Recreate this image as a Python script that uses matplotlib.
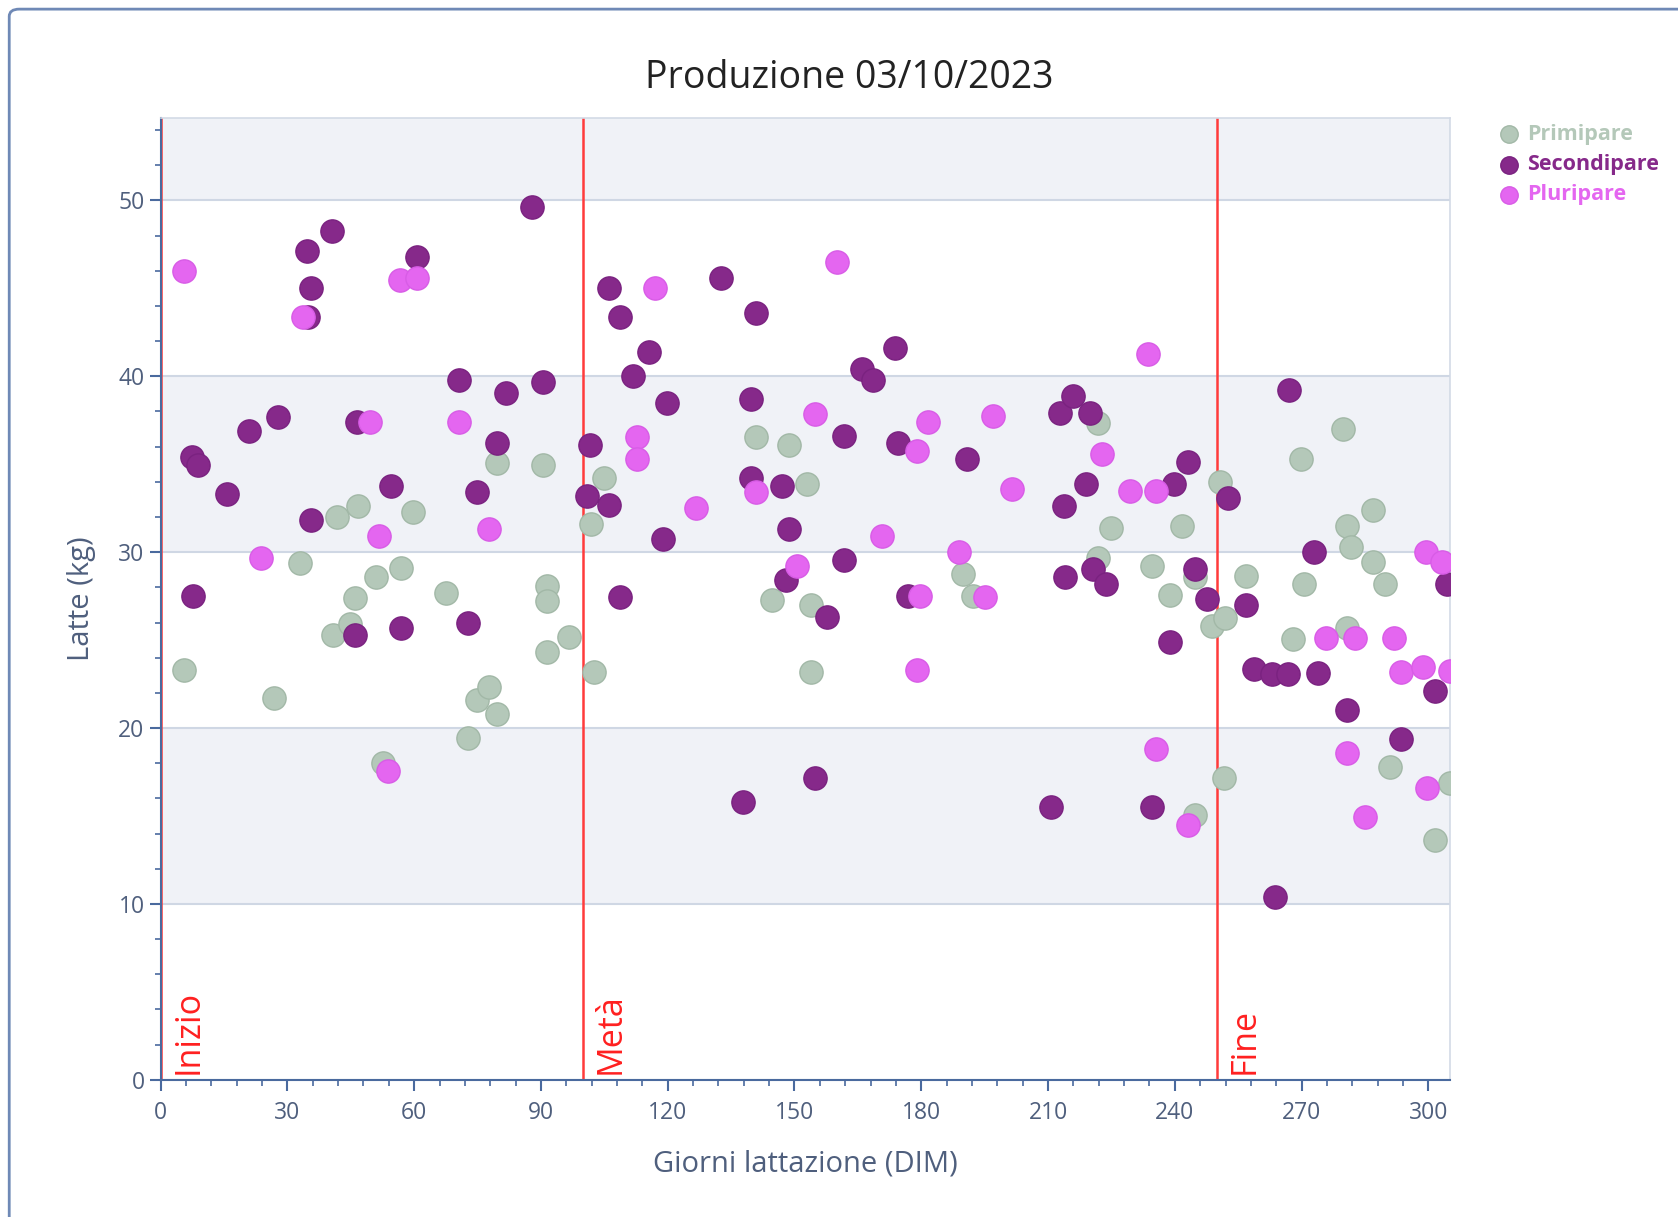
import matplotlib
matplotlib.use("Agg")
import matplotlib.pyplot as plt
from matplotlib.patches import FancyBboxPatch
from matplotlib.ticker import MultipleLocator

plt.rcParams['font.family'] = ['Open Sans', 'DejaVu Sans']

# -----------------------------
# Data (giorni lattazione, latte kg)
# -----------------------------

primi_dim = [5.6, 26.9, 33.0, 40.7, 41.7, 44.8, 45.9, 46.8, 51.0, 52.7,
             56.9, 59.7, 67.5, 72.7, 74.8, 77.6, 79.5, 79.5, 90.6, 91.5,
             91.5, 91.5, 96.7, 101.8, 102.5, 104.9, 140.9, 144.7, 148.8, 152.9,
             153.8, 153.8, 189.9, 192.3, 221.7, 221.9, 225.0, 234.6, 238.8, 241.6,
             244.7, 244.7, 248.9, 250.8, 251.8, 251.7, 256.8, 268.0, 269.8, 270.6,
             279.8, 280.8, 280.8, 281.6, 286.8, 286.8, 289.7, 291.0, 301.5, 305.0]
primi_latte = [23.3, 21.7, 29.4, 25.3, 32.0, 25.9, 27.4, 32.6, 28.6, 18.0,
               29.1, 32.3, 27.7, 19.45, 21.6, 22.35, 20.8, 35.05, 34.95, 28.1,
               27.2, 24.3, 25.2, 31.6, 23.2, 34.2, 36.56, 27.3, 36.1, 33.85,
               27.0, 23.2, 28.75, 27.5, 37.36, 29.65, 31.35, 29.23, 27.56, 31.5,
               28.57, 15.05, 25.8, 34.0, 26.24, 17.14, 28.64, 25.04, 35.3, 28.2,
               37.0, 31.5, 25.7, 30.3, 32.4, 29.45, 28.2, 17.8, 13.63, 16.9]

secondi_dim = [7.4, 7.6, 8.9, 15.8, 20.9, 27.9, 34.7, 35.0, 35.7, 35.7,
               40.6, 45.9, 46.4, 54.5, 56.9, 60.6, 70.7, 72.7, 74.8, 79.5,
               81.7, 87.8, 90.6, 100.8, 101.5, 106.0, 106.0, 108.7, 108.7, 111.9,
               115.5, 118.8, 119.8, 132.6, 137.7, 139.6, 139.6, 140.9, 147.0, 147.9,
               148.7, 154.8, 157.6, 161.7, 161.7, 165.9, 168.6, 173.8, 174.5, 176.9,
               190.9, 210.7, 212.8, 213.8, 214.0, 215.8, 218.9, 219.9, 220.7, 223.7,
               234.6, 238.8, 239.8, 243.0, 244.7, 247.5, 252.6, 256.8, 258.7, 262.9,
               263.7, 266.8, 267.0, 272.9, 273.8, 280.8, 293.6, 301.5, 304.3]
secondi_latte = [35.4, 27.5, 34.95, 33.3, 36.9, 37.7, 47.1, 43.35, 45.0, 31.8,
                 48.25, 25.3, 37.4, 33.75, 25.67, 46.8, 39.8, 26.0, 33.4, 36.2,
                 39.06, 49.6, 39.7, 33.2, 36.1, 45.0, 32.7, 43.35, 27.43, 40.0,
                 41.4, 30.75, 38.5, 45.6, 15.8, 38.7, 34.2, 43.6, 33.75, 28.4,
                 31.3, 17.14, 26.3, 36.6, 29.55, 40.4, 39.8, 41.6, 36.2, 27.5,
                 35.3, 15.53, 37.93, 32.6, 28.57, 38.87, 33.9, 37.93, 29.02, 28.2,
                 15.53, 24.9, 33.85, 35.1, 29.02, 27.33, 33.06, 27.0, 23.35, 23.05,
                 10.4, 23.05, 39.2, 30.0, 23.14, 21.0, 19.37, 22.1, 28.2]

pluri_dim = [5.6, 23.7, 33.8, 49.6, 51.8, 53.7, 56.7, 60.6, 70.7, 77.6,
             112.8, 112.8, 117.0, 126.7, 140.9, 150.7, 154.8, 160.0, 170.8, 178.9,
             178.9, 179.7, 181.5, 189.0, 195.1, 196.9, 201.5, 222.7, 229.5, 233.7,
             235.5, 235.5, 243.0, 275.7, 280.8, 282.6, 285.0, 291.9, 293.6, 298.7,
             299.5, 299.7, 303.1, 305.0]
pluri_latte = [46.0, 29.65, 43.35, 37.4, 30.9, 17.57, 45.5, 45.6, 37.4, 31.3,
               36.56, 35.27, 45.0, 32.5, 33.4, 29.23, 37.85, 46.5, 30.9, 35.75,
               23.3, 27.5, 37.4, 30.0, 27.43, 37.75, 33.6, 35.6, 33.5, 41.26,
               33.5, 18.8, 14.49, 25.13, 18.6, 25.13, 14.96, 25.13, 23.17, 23.48,
               30.0, 16.6, 29.45, 23.26]

fasi_dim = [0, 100, 250]
fasi_labels = ["Inizio", "Metà", "Fine"]

bande = [10, 30, 50]

# -----------------------------
# Figure
# -----------------------------

fig = plt.figure(figsize=(16.78, 12.17), dpi=100)

frame = FancyBboxPatch(
    (0.0055, -0.05), 1.2, 1.0425,
    boxstyle="round,pad=0,rounding_size=0.006",
    transform=fig.transFigure,
    facecolor="none",
    edgecolor="#6f89b6",
    linewidth=2,
    zorder=-1
)
fig.patches.append(frame)

ax = fig.add_axes([0.0957, 0.1127, 0.7684, 0.7906])
ax.set_facecolor("white")

for b in bande:
    ax.axhspan(b, b + 10, color="#f0f2f7", zorder=0, linewidth=0)

ax.yaxis.grid(True, color="#cfd7e4", linewidth=1.5, zorder=1)
ax.set_axisbelow(True)

# fasi di lattazione
for d, lab in zip(fasi_dim, fasi_labels):
    ax.axvline(d, color="#ff3b3b", linewidth=1.8, zorder=2)
    ax.text(d + 6.6, 0.35, lab, rotation=90, color="#ff2020",
            fontsize=24.5, ha="center", va="bottom", zorder=3)

ax.scatter(primi_dim, primi_latte, s=280, color="#b4c8b9",
           edgecolors="#a2b8a7", linewidths=1, zorder=4, label="Primipare")
ax.scatter(secondi_dim, secondi_latte, s=280, color="#86298a",
           edgecolors="#7a2280", linewidths=1, zorder=5, label="Secondipare")
ax.scatter(pluri_dim, pluri_latte, s=280, color="#e466f0",
           edgecolors="#d85ce6", linewidths=1, zorder=6, label="Pluripare")

ax.set_xlim(0, 305.1)
ax.set_ylim(0, 54.7)

ax.xaxis.set_major_locator(MultipleLocator(30))
ax.xaxis.set_minor_locator(MultipleLocator(6))
ax.yaxis.set_major_locator(MultipleLocator(10))
ax.yaxis.set_minor_locator(MultipleLocator(2))

axis_col = "#4a6a9e"
text_col = "#4f5f7d"

for side in ["left", "bottom"]:
    ax.spines[side].set_color(axis_col)
    ax.spines[side].set_linewidth(1.5)
for side in ["top", "right"]:
    ax.spines[side].set_color("#d3dae6")
    ax.spines[side].set_linewidth(1.2)

ax.tick_params(axis="both", which="major", length=8, width=1.5,
               color=axis_col, labelcolor=text_col, labelsize=16.5)
ax.tick_params(axis="x", which="major", pad=7)
ax.tick_params(axis="both", which="minor", length=4, width=1.2,
               color=axis_col)

ax.set_xlabel("Giorni lattazione (DIM)", fontsize=21, color=text_col,
              labelpad=18)
ax.set_ylabel("Latte (kg)", fontsize=21, color=text_col, labelpad=16)

fig.text(0.506, 0.936, "Produzione 03/10/2023", fontsize=27,
         color="#222222", ha="center", va="center")

leg = fig.legend(
    loc="upper left",
    bbox_to_anchor=(0.8915, 0.898),
    frameon=False,
    fontsize=15.5,
    markerscale=0.75,
    handletextpad=0.25,
    labelspacing=0.42,
    borderaxespad=0,
    borderpad=0,
    handlelength=1.2,
    scatterpoints=1
)
for t, c in zip(leg.get_texts(), ["#b4c8b9", "#86298a", "#e466f0"]):
    t.set_color(c)
    t.set_fontweight("bold")

fig.savefig("out.png", dpi=100)
